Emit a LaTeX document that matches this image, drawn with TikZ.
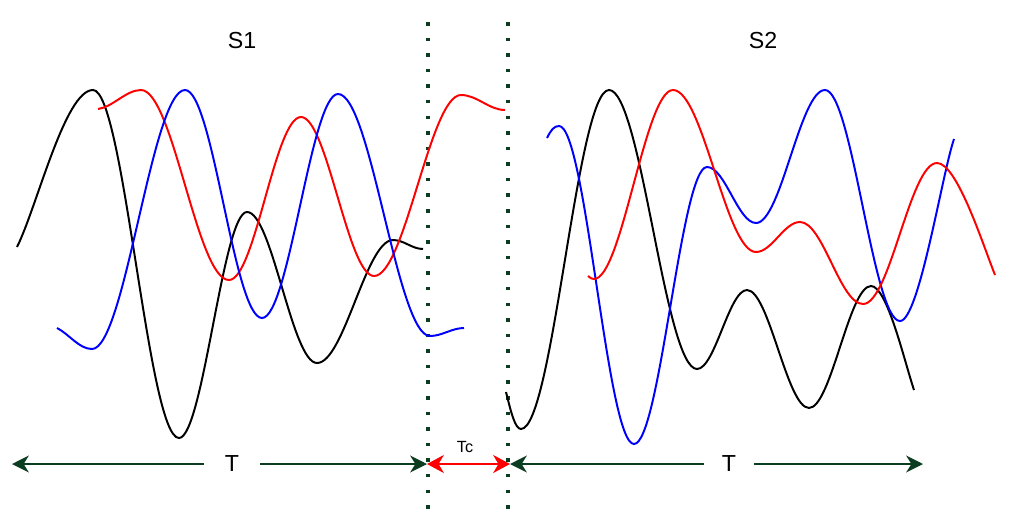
\documentclass[tikz,border=0pt]{standalone}
\usepackage{fontspec}
\setmainfont{Liberation Sans}
\usetikzlibrary{arrows.meta}
\definecolor{sepgreen}{HTML}{0B3D21}

\begin{document}
\begin{tikzpicture}[x=0.025cm,y=-0.025cm,
  wave/.style={line width=1.4pt},
  span/.style={draw=sepgreen,line width=1.4pt,-{Stealth[length=0.42cm,width=0.42cm,inset=0.13cm]}},
  gapspan/.style={draw=red,line width=1.4pt,{Stealth[length=0.42cm,width=0.45cm,inset=0.13cm]}-{Stealth[length=0.42cm,width=0.45cm,inset=0.13cm]}},
  sepline/.style={draw=sepgreen,line width=0.0875cm,dash pattern=on 0.0875cm off 0.302cm},
  title/.style={font=\fontsize{16.5}{19}\selectfont,inner sep=0pt}]
\useasboundingbox (0,0) rectangle (1023,513);

% segment titles
\node[title] (s1) at (242,41) {S1};
\node[title] (s2) at (763,41) {S2};

% separators
\coordinate (d1top) at (428,22);
\coordinate (d1bot) at (428,515);
\coordinate (d2top) at (508,22);
\coordinate (d2bot) at (508,515);
\draw[sepline] (d1top) -- (d1bot);
\draw[sepline] (d2top) -- (d2bot);

% signals of S1
\draw[wave,black] (17,247) .. controls +(20,-40) and +(-28,0) .. (93,90)
  .. controls +(31,0) and +(-31,0) .. (179,438)
  .. controls +(24,0) and +(-24,0) .. (247,212)
  .. controls +(25,0) and +(-25,0) .. (317,363)
  .. controls +(27,0) and +(-27,0) .. (393,240)
  .. controls +(11,0) and +(-11,0) .. (423,249);
\draw[wave,red] (98,109) .. controls +(15,-2) and +(-15,0) .. (141,90)
  .. controls +(32,0) and +(-32,0) .. (229,280)
  .. controls +(26,0) and +(-26,0) .. (301,117)
  .. controls +(26,0) and +(-26,0) .. (374,276)
  .. controls +(31,0) and +(-31,0) .. (461,95)
  .. controls +(16,0) and +(-16,0) .. (505,110);
\draw[wave,blue] (57,328) .. controls +(12,6) and +(-13,0) .. (92,349)
  .. controls +(33,0) and +(-33,0) .. (185,90)
  .. controls +(28,0) and +(-28,0) .. (262,318)
  .. controls +(27,0) and +(-27,0) .. (338,94)
  .. controls +(33,0) and +(-33,0) .. (430,336)
  .. controls +(12,0) and +(-12,0) .. (464,328);

% signals of S2
\draw[wave,black] (506,392) .. controls +(5,20) and +(-6,0) .. (521,429)
  .. controls +(32,0) and +(-32,0) .. (609,90)
  .. controls +(32,0) and +(-32,0) .. (697,369)
  .. controls +(18,0) and +(-18,0) .. (747,290)
  .. controls +(22,0) and +(-22,0) .. (809,408)
  .. controls +(22,0) and +(-22,0) .. (871,286)
  .. controls +(16,0) and +(-10,-30) .. (914,390);
\draw[wave,blue] (547,138) .. controls +(4,-8) and +(-5,0) .. (559,126)
  .. controls +(27,0) and +(-27,0) .. (634,444)
  .. controls +(26,0) and +(-26,0) .. (707,167)
  .. controls +(18,0) and +(-18,0) .. (756,223)
  .. controls +(25,0) and +(-25,0) .. (825,90)
  .. controls +(27,0) and +(-27,0) .. (900,321)
  .. controls +(19,0) and +(-12,35) .. (954,139);
\draw[wave,red] (588,276) .. controls +(2,2) and +(-2,0) .. (594,279)
  .. controls +(28,0) and +(-28,0) .. (673,90)
  .. controls +(30,0) and +(-30,0) .. (756,252)
  .. controls +(16,0) and +(-16,0) .. (800,222)
  .. controls +(23,0) and +(-23,0) .. (863,304)
  .. controls +(27,0) and +(-27,0) .. (937,163)
  .. controls +(20,0) and +(-12,-30) .. (995,275);

% durations
\coordinate (p0) at (12,464);
\coordinate (p1) at (427,464);
\coordinate (p2) at (510,464);
\coordinate (p3) at (923,464);
\node[title,minimum width=1.375cm] (t1) at (232,464) {T};
\node[title,minimum width=1.225cm] (t2) at (729,464) {T};
\draw[span] (t1) -- (p0);
\draw[span] (t1) -- (p1);
\draw[span] (t2) -- (p2);
\draw[span] (t2) -- (p3);
\draw[gapspan] (p1) -- (p2);
\node[font=\fontsize{11.5}{13}\selectfont,inner sep=0pt] (tc) at (465,447.5) {Tc};
\end{tikzpicture}
\end{document}
